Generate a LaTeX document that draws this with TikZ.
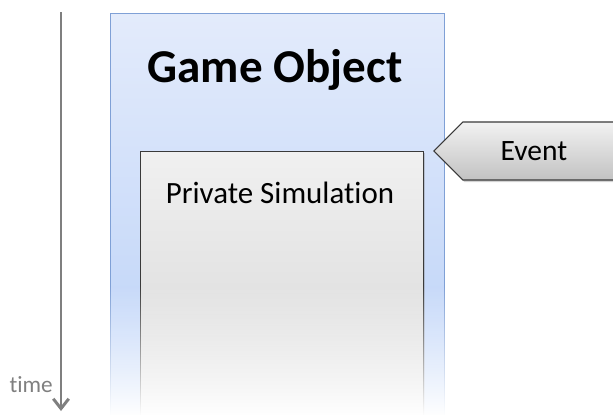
\documentclass[tikz,border=0pt]{standalone}
\usepackage{fontspec}
\setmainfont{Carlito}[Ligatures={NoCommon}]
\usepackage{tikz}
\usetikzlibrary{positioning,arrows.meta,shapes.symbols,shadows,fadings}
\definecolor{objtop}{HTML}{E3EBFB}
\definecolor{objbottom}{HTML}{BAD1F8}
\definecolor{objline}{HTML}{7FA0D6}
\definecolor{simtop}{HTML}{F0F0F0}
\definecolor{simbottom}{HTML}{D6D6D6}
\definecolor{simline}{HTML}{3A3A3A}
\definecolor{eventtop}{HTML}{F2F2F2}
\definecolor{eventbottom}{HTML}{C2C2C2}
\definecolor{timegray}{HTML}{7F7F7F}
\tikzfading[name=fade out, top color=transparent!100, bottom color=transparent!0]
\tikzset{
    obj box/.style={rectangle, draw=objline, line width=0.8pt, top color=objtop, bottom color=objbottom,
        minimum width=8.35cm, minimum height=10.1cm, inner sep=0pt},
    sim box/.style={rectangle, draw=simline, line width=0.8pt, top color=simtop, bottom color=simbottom,
        minimum width=7.075cm, minimum height=6.8cm, inner sep=0pt,
        drop shadow={shadow xshift=1.2pt, shadow yshift=-1pt, opacity=0.35}},
    event arrow/.style={signal, signal to=west, signal pointer angle=90, draw=simline, line width=0.8pt,
        top color=eventtop, bottom color=eventbottom, minimum height=1.45cm, minimum width=5.3cm,
        inner sep=0pt, drop shadow={shadow xshift=1.2pt, shadow yshift=-1.5pt, opacity=0.35}},
    title text/.style={font=\fontsize{33.5}{38}\selectfont\bfseries, inner sep=0pt},
    sim text/.style={font=\fontsize{22}{26}\selectfont, inner sep=0pt},
    event text/.style={font=\fontsize{21}{24}\selectfont, inner sep=0pt},
    time label/.style={font=\fontsize{16.5}{19}\selectfont, text=timegray, inner sep=0pt},
    time arrow/.style={-{Straight Barb[length=7pt, width=11pt]}, line width=2.1pt, timegray}
}

\begin{document}
\begin{tikzpicture}[x=0.025cm, y=-0.025cm]
    \useasboundingbox (0,0) rectangle (613,415);
    \clip (0,0) rectangle (613,415);

    % Time axis
    \coordinate (tstart) at (61,12);
    \coordinate (tend) at (61,411);
    \draw[time arrow] (tstart) -- (tend);
    \node[time label, anchor=base east] (time) at (53,392) {time};

    % Game object with its private simulation
    \node[obj box, anchor=north west] (obj) at (110,13) {};
    \node[title text, anchor=base] (title) at (275,82) {Game Object};
    \node[sim box, anchor=north west] (sim) at (140,151) {};
    \node[sim text, anchor=base] (simlabel) at (280,203) {Private Simulation};

    % Fade the boxes out towards the bottom
    \fill[white, path fading=fade out] (100,285) rectangle (460,416);

    % Incoming event
    \node[event arrow, anchor=west] (event) at (433,151) {};
    \node[event text, anchor=base] (eventlabel) at (534,160) {Event};
\end{tikzpicture}
\end{document}
